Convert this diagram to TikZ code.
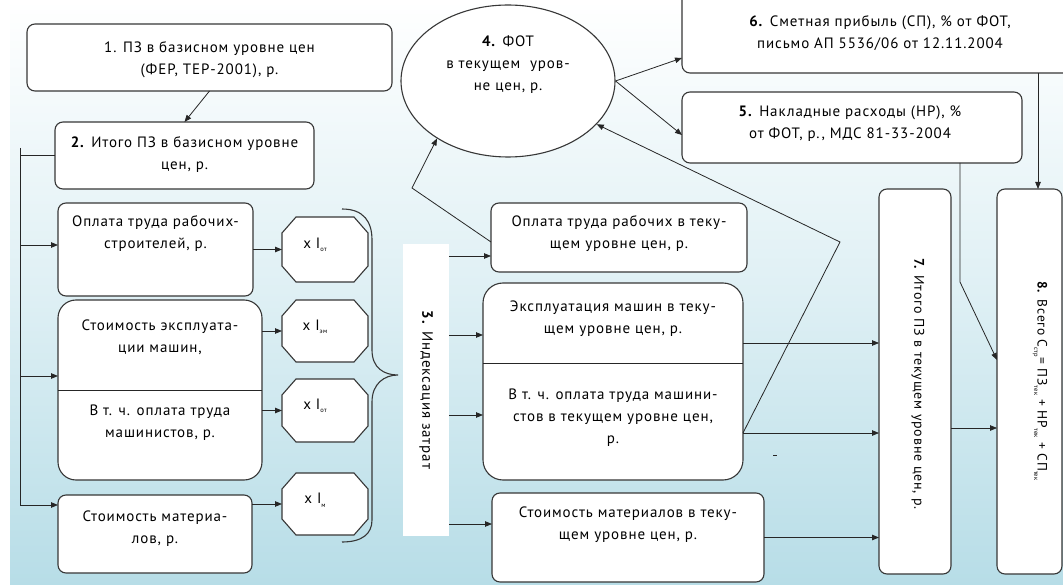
\documentclass[tikz,border=0pt]{standalone}
\usepackage{fontspec}
\setmainfont[LetterSpace=6]{PT Sans}
\usetikzlibrary{arrows.meta,calc,shapes.geometric}
\definecolor{bgblue}{RGB}{183,221,231}
\definecolor{edgec}{RGB}{55,55,55}
\newcommand{\sbx}[1]{\raisebox{-3.5pt}{\fontsize{6.5}{6.5}\selectfont #1}}
\newcommand{\octagonbox}[1]{%
  \draw[draw=edgec,line width=1.1pt,fill=white]
    ($(#1.north west)+(14,0)$) -- ($(#1.north east)+(-14,0)$) --
    ($(#1.north east)+(0,16)$) -- ($(#1.south east)+(0,-16)$) --
    ($(#1.south east)+(-14,0)$) -- ($(#1.south west)+(14,0)$) --
    ($(#1.south west)+(0,-16)$) -- ($(#1.north west)+(0,16)$) -- cycle;}
\tikzset{
  box/.style={draw=edgec, line width=1.1pt, fill=white, rounded corners=8pt,
    inner sep=0pt, outer sep=0pt},
  bigbox/.style={box, rounded corners=18pt},
  oct/.style={inner sep=0pt, outer sep=0pt},
  txt/.style={align=center, inner sep=0pt, font=\fontsize{15}{22}\selectfont},
  arr/.style={draw=black!85, line width=0.8pt, -{Triangle[length=7pt,width=5.5pt]}},
  ln/.style={draw=black!85, line width=0.8pt},
}
\begin{document}
\begin{tikzpicture}[x=1pt,y=-1pt]
\useasboundingbox (0,0) rectangle (1063,585);
\clip (0,0) rectangle (1063,585);
\shade[top color=white, bottom color=bgblue, middle color=bgblue!45] (10,0) rectangle (1063,585);

% ---- left column
\node[box, minimum width=365, minimum height=67] (b1) at (209.5,57.5) {};
\node[txt] (t1) at (209.5,60) {1. ПЗ в базисном уровне цен\\(ФЕР, ТЕР-2001), р.};
\node[box, minimum width=259, minimum height=67] (b2) at (184.5,155.5) {};
\node[txt] (t2) at (184.5,154.5) {\textbf{2.} Итого ПЗ в базисном уровне\\цен, р.};
\node[box, minimum width=195, minimum height=93] (b3) at (155.5,249.5) {};
\node[txt] (t3) at (155.5,234) {Оплата труда рабочих-\\строителей, р.};
\node[bigbox, minimum width=204, minimum height=180] (b4) at (160,390) {};
\draw[ln] ($(b4.north west)+(0,90)$) -- ($(b4.north east)+(0,90)$);
\node[txt] (t4a) at (160,337) {Стоимость эксплуата-\\ции машин,};
\node[txt] (t4b) at (160,422.5) {В т. ч. оплата труда\\машинистов, р.};
\node[box, minimum width=194, minimum height=78] (b5) at (155,534) {};
\node[txt] (t5) at (155,528.5) {Стоимость материа-\\лов, р.};

% ---- octagons
\node[oct, minimum width=86, minimum height=65] (o1) at (325,249.5) {};
\node[oct, minimum width=86, minimum height=62] (o2) at (325,331) {};
\node[oct, minimum width=86, minimum height=63] (o3) at (325,410.5) {};
\node[oct, minimum width=86, minimum height=62] (o4) at (325,504) {};
\octagonbox{o1}\octagonbox{o2}\octagonbox{o3}\octagonbox{o4}
\node[txt] (to1) at (315,245) {x\,\,I\sbx{от}};
\node[txt] (to2) at (315,327) {x\,\,I\sbx{эм}};
\node[txt] (to3) at (315,406) {x\,\,I\sbx{от}};
\node[txt] (to4) at (315,500) {x\,\,I\sbx{м}};

% ---- brace
\draw[draw=edgec, line width=1.1pt] (342,209) .. controls (364,209) and (372,222) .. (372,240)
  -- (372,350) .. controls (372,368) and (384,375) .. (398,375)
  .. controls (384,375) and (372,384) .. (372,402)
  -- (372,520) .. controls (372,534) and (362,542) .. (342,542);

% ---- indexation strip
\node[fill=white, inner sep=0pt, minimum width=46, minimum height=292] (r) at (426,390) {};
\node[txt, rotate=-90] (tr) at (426,390) {\textbf{3.} Индексация затрат};

% ---- current level boxes
\node[box, minimum width=256, minimum height=69] (c1) at (619,237.5) {};
\node[txt] (tc1) at (619,233.5) {Оплата труда рабочих в теку-\\щем уровне цен, р.};
\node[box, rounded corners=20pt, minimum width=260, minimum height=197] (c2) at (613,381.5) {};
\draw[ln] ($(c2.north west)+(0,80)$) -- ($(c2.north east)+(0,80)$);
\node[txt] (tc2a) at (613,319) {Эксплуатация машин в теку-\\щем уровне цен, р.};
\node[txt] (tc2b) at (613,417.5) {В т. ч. оплата труда машини-\\стов в текущем уровне цен,\\р.};
\node[box, minimum width=272, minimum height=89] (c3) at (628,537.5) {};
\node[txt] (tc3) at (628,525) {Стоимость материалов в теку-\\щем уровне цен, р.};

% ---- top
\node[draw=edgec, line width=1.1pt, fill=white, ellipse, inner sep=0pt,
  minimum width=214, minimum height=152] (e4) at (508,81) {};
\node[txt] (te4) at (508,65) {\textbf{4.} ФОТ\\в текущем \ уров-\\не цен, р.};
\node[box, minimum width=393, minimum height=83] (b6) at (878.5,31.5) {};
\node[txt] (tb6) at (880,33.5) {\textbf{6.} Сметная прибыль (СП), \% от ФОТ,\\письмо АП 5536/06 от 12.11.2004};
\node[box, minimum width=340, minimum height=71] (b5b) at (852,127.5) {};
\node[txt] (tb5b) at (850,124) {\textbf{5.} Накладные расходы (НР), \%\\от ФОТ, р., МДС 81-33-2004};

% ---- right tall boxes
\node[box, minimum width=72, minimum height=385] (b7) at (915,381.5) {};
\node[txt, rotate=-90, font=\fontsize{14}{20}\selectfont] (tb7) at (918,384) {\textbf{7.} Итого ПЗ в текущем уровне цен, р.};
\node[box, minimum width=65, minimum height=385] (b8) at (1029.5,381.5) {};
\node[txt, rotate=-90, font=\fontsize{13.5}{20}\selectfont] (tb8) at (1040,381) {\textbf{8.} Всего С\sbx{стр}= ПЗ\sbx{тек} + НР\sbx{тек} + СП\sbx{тек}};

% ---- connectors left
\draw[arr] (b1.south) -- (b2.north);
\coordinate (bt) at (20,148);
\coordinate (j1) at (20,245);
\coordinate (j2) at (20,376);
\coordinate (bb) at (20,505);
\draw[ln] (b2.west) -- (b2.west -| bt);
\draw[ln] (bt) -- (bb);
\draw[arr] (j1) -- (j1 -| b3.west);
\draw[arr] (j2) -- (j2 -| b4.west);
\draw[arr] (bb) -- (bb -| b5.west);
\draw[arr] (b3.east |- o1.west) -- (o1.west);
\draw[arr] (b4.east |- o2.west) -- (o2.west);
\draw[arr] (b4.east |- o3.west) -- (o3.west);
\draw[arr] (b5.east |- o4.west) -- (o4.west);

% ---- connectors middle
\coordinate (k1) at (449,256);
\coordinate (k2) at (449,335);
\coordinate (k3) at (449,415);
\coordinate (k4) at (449,524);
\draw[arr] (k1) -- (k1 -| c1.west);
\draw[arr] (k2) -- (k2 -| c2.west);
\draw[arr] (k3) -- (k3 -| c2.west);
\draw[arr] (k4) -- (k4 -| c3.west);
\coordinate (c1w) at ($(c1.west)+(0,4.5)$);
\draw[arr] (c1w) -- (412,188) -- (e4.219);
\coordinate (c2r) at ($(c2.north east)+(0,150)$);
\draw[arr] (c2r) -- (840,242) -- (e4.334);
\draw[arr] (e4.east) -- ($(b6.south west)+(0,-15)$);
\draw[arr] (e4.east) -- ($(b5b.west)+(0,7.5)$);

% ---- connectors right
\coordinate (m1) at ($(c2.north east)+(0,60)$);
\draw[arr] (m1) -- (m1 -| b7.west);
\draw[arr] (c2r) -- (c2r -| b7.west);
\draw[arr] (c3.east) -- (c3.east -| b7.west);
\coordinate (n1) at ($(b7.east)+(0,46.5)$);
\draw[arr] (n1) -- (n1 -| b8.west);
\coordinate (p1) at (1038,73);
\draw[arr] (p1) -- (p1 |- b8.north);
\coordinate (q1) at (960,163);
\coordinate (q3) at ($(b8.west)+(0,-21.5)$);
\draw[arr] (q1) -- (960,282) -- (q3);
\draw[ln, line width=1pt] (773,455) -- (777,455);
\end{tikzpicture}
\end{document}
